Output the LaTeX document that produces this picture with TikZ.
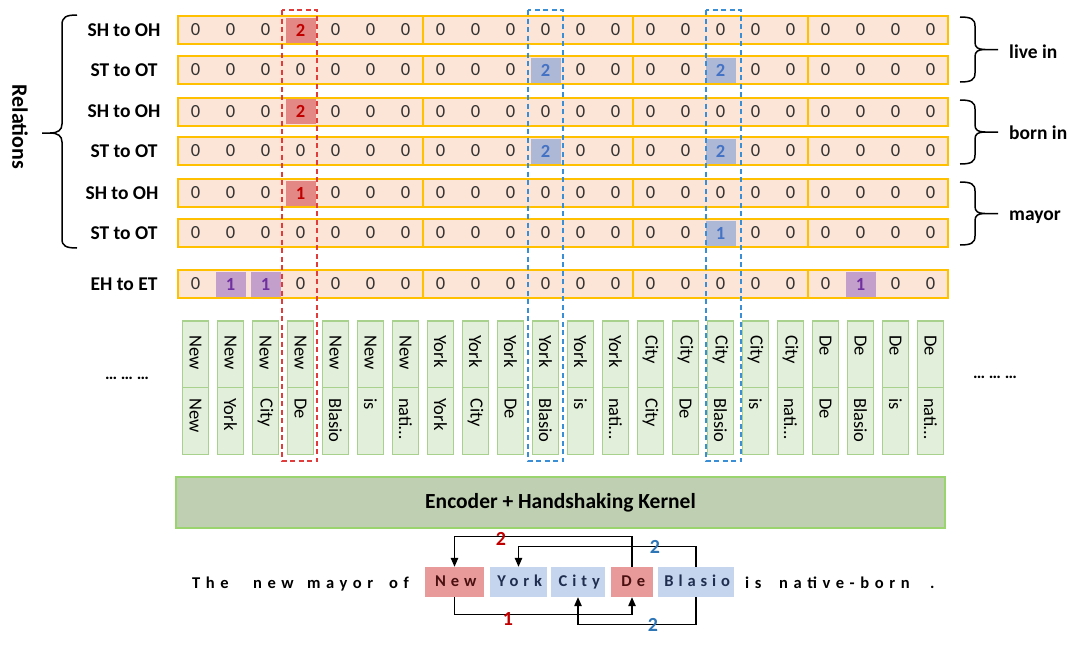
\documentclass[tikz,border=0pt]{standalone}
\usepackage{fontspec}
\setmainfont{Carlito}
\newfontfamily\spacedfont[LetterSpace=30]{Carlito}
\newfontfamily\widefont[LetterSpace=34]{Carlito}
\usetikzlibrary{arrows.meta}
\definecolor{peach}{HTML}{FCE4D6}
\definecolor{goldline}{HTML}{FFC000}
\definecolor{redcell}{HTML}{E38884}
\definecolor{redtxt}{HTML}{C00000}
\definecolor{bluecell}{HTML}{ADB8D6}
\definecolor{bluetxt}{HTML}{4472C4}
\definecolor{purcell}{HTML}{C3A0CC}
\definecolor{purtxt}{HTML}{7030A0}
\definecolor{tokfill}{HTML}{E2EFDA}
\definecolor{tokline}{HTML}{A9D18E}
\definecolor{encfill}{HTML}{BED0B1}
\definecolor{encline}{HTML}{9AD46E}
\definecolor{digitgray}{HTML}{333333}
\definecolor{redword}{HTML}{E89A9A}
\definecolor{blueword}{HTML}{C6D5EE}
\definecolor{redwordtxt}{HTML}{4A0F0F}
\definecolor{bluewordtxt}{HTML}{1F2D4F}
\definecolor{dashred}{HTML}{E03C3C}
\definecolor{dashblue}{HTML}{3A8ED6}
\definecolor{arrowred}{HTML}{C00000}
\definecolor{arrowblue}{HTML}{2E75B6}
\newcommand\RightBr[2]{%
  \pgfmathsetmacro\mymid{(#1+#2)/2}%
  \draw[bracel] (960,#1) .. controls (971,#1) and (975,#1+2) .. (975,#1+9) -- (975,\mymid-7)
    .. controls (975,\mymid-2) and (978,\mymid) .. (985,\mymid) -- (998,\mymid)
    (985,\mymid) .. controls (978,\mymid) and (975,\mymid+2) .. (975,\mymid+7) -- (975,#2-9)
    .. controls (975,#2-2) and (971,#2) .. (960,#2);}
\begin{document}
\begin{tikzpicture}[x=1pt,y=-1pt,
  lab/.style={font=\fontsize{19.5}{22}\selectfont\bfseries, inner sep=0},
  digit/.style={font=\fontsize{18.5}{20}\selectfont, text=digitgray, inner sep=0},
  hl/.style={minimum width=30pt, minimum height=25pt, inner sep=0, font=\fontsize{18.5}{20}\selectfont\bfseries},
  grp/.style={draw=goldline, line width=2pt},
  tokbox/.style={draw=tokline, fill=tokfill, line width=1.2pt, minimum width=26pt, minimum height=67pt, inner sep=0},
  toktxt/.style={font=\fontsize{18.5}{20}\selectfont, inner sep=0, rotate=-90, anchor=west},
  dots/.style={font=\fontsize{17}{20}\selectfont\bfseries, inner sep=0},
  sent/.style={font=\fontsize{16.5}{20}\spacedfont\bfseries, inner sep=0},
  word/.style={font=\fontsize{16.5}{20}\widefont\bfseries, inner sep=0, anchor=base west},
  wbox/.style={sent, minimum height=30pt, text height=11pt, text depth=3pt},
  arr/.style={line width=1.2pt, -{Triangle[length=9pt,width=7.5pt]}},
  numlab/.style={font=\fontsize{20}{22}\selectfont\bfseries, inner sep=0},
  dashbox/.style={line width=1.6pt, dash pattern=on 5pt off 3.5pt},
  bracel/.style={line width=1.5pt}
]
\useasboundingbox (0,0) rectangle (1080,651);

% row backgrounds
\foreach \yc in {30,70,111.5,151,193,233,284}
  \fill[peach] (178,\yc-14) rectangle (948,\yc+14);

% highlighted cells
\foreach \nm/\c/\yc/\fc/\tc/\v in {r1c3/3/30/redcell/redtxt/2, r2c10/10/70/bluecell/bluetxt/2,
   r2c15/15/70/bluecell/bluetxt/2, r3c3/3/111.5/redcell/redtxt/2, r4c10/10/151/bluecell/bluetxt/2,
   r4c15/15/151/bluecell/bluetxt/2, r5c3/3/193/redcell/redtxt/1, r6c15/15/233/bluecell/bluetxt/1,
   r7c1/1/284/purcell/purtxt/1, r7c2/2/284/purcell/purtxt/1, r7c19/19/284/purcell/purtxt/1}
  \node[hl, fill=\fc, text=\tc] (\nm) at ({195.5+35*\c},\yc) {\v};

% group borders
\foreach \yc in {30,70,111.5,151,193,233,284}
  \foreach \a/\b in {178/423,423/633,633/808,808/948}
    \draw[grp] (\a,\yc-14) rectangle (\b,\yc+14);

% zeros
\foreach \c in {0,1,2,4,5,...,21} \node[digit] (ra\c) at ({195.5+35*\c},30) {0};
\foreach \c in {0,1,...,9,11,12,13,14,16,17,...,21} \node[digit] (rb\c) at ({195.5+35*\c},70) {0};
\foreach \c in {0,1,2,4,5,...,21} \node[digit] (rc\c) at ({195.5+35*\c},111.5) {0};
\foreach \c in {0,1,...,9,11,12,13,14,16,17,...,21} \node[digit] (rd\c) at ({195.5+35*\c},151) {0};
\foreach \c in {0,1,2,4,5,...,21} \node[digit] (re\c) at ({195.5+35*\c},193) {0};
\foreach \c in {0,1,...,14,16,17,...,21} \node[digit] (rf\c) at ({195.5+35*\c},233) {0};
\foreach \c in {0,3,4,...,18,20,21} \node[digit] (rg\c) at ({195.5+35*\c},284) {0};

% row labels
\node[lab] (L1) at (124,30) {SH to OH};
\node[lab] (L2) at (124,70) {ST to OT};
\node[lab] (L3) at (124,111.5) {SH to OH};
\node[lab] (L4) at (124,151) {ST to OT};
\node[lab] (L5) at (122,193) {SH to OH};
\node[lab] (L6) at (124,233) {ST to OT};
\node[lab] (L7) at (124,284) {EH to ET};

% token pairs
\foreach \a/\b [count=\i from 0] in {New/New,New/York,New/City,New/De,New/Blasio,New/is,New/nati…,
   York/York,York/City,York/De,York/Blasio,York/is,York/nati…,
   City/City,City/De,City/Blasio,City/is,City/nati…,
   De/De,De/Blasio,De/is,De/nati…} {
  \node[tokbox] (ta\i) at ({195.5+35*\i},354.5) {};
  \node[tokbox] (tb\i) at ({195.5+35*\i},421) {};
  \node[toktxt] (tat\i) at ({195.5+35*\i},335) {\a};
  \node[toktxt] (tbt\i) at ({195.5+35*\i},398) {\b};
}
\node[dots] (dl) at (127,378) {… … …};
\node[dots] (dr) at (995,377) {… … …};

% encoder
\node[draw=encline, fill=encfill, line width=1.2pt, minimum width=769pt, minimum height=51pt,
  inner sep=0, font=\fontsize{21.5}{24}\selectfont\bfseries] (enc) at (560.5,502.5) {Encoder + Handshaking Kernel};

% sentence
\node[word] (wThe) at (192,588) {The};
\node[word] (wnew) at (253,588) {new};
\node[word] (wmayor) at (307,588) {mayor};
\node[word] (wof) at (389,588) {of};
\node[wbox, fill=redword, text=redwordtxt, minimum width=59pt] (New) at (454.5,582) {\hspace*{2.5pt}New};
\node[wbox, fill=blueword, text=bluewordtxt, minimum width=57pt] (York) at (518.5,582) {\hspace*{2.5pt}York};
\node[wbox, fill=blueword, text=bluewordtxt, minimum width=54pt] (City) at (578,582) {\hspace*{2.5pt}City};
\node[wbox, fill=redword, text=redwordtxt, minimum width=42pt] (De) at (632,582) {\hspace*{2.5pt}De};
\node[wbox, fill=blueword, text=bluewordtxt, minimum width=76pt] (Blasio) at (696,582) {\hspace*{2.5pt}Blasio};
\node[word] (wis) at (745,588) {is};
\node[word] (wnat) at (779,588) {native-born};
\node[word] (wdot) at (930,588) {.};

% arrows
\draw[arr] (De.north) -- ++(0,-30) -| (New.north);
\draw[arr] (Blasio.north) -- ++(0,-20) -| (York.north);
\draw[arr] (New.south) -- ++(0,17) -| (De.south);
\draw[arr] (Blasio.south) -- ++(0,27) -| (City.south);
\node[numlab, text=arrowred] (n1) at (501,539) {2};
\node[numlab, text=arrowblue] (n2) at (655,547) {2};
\node[numlab, text=arrowred] (n3) at (508,619) {1};
\node[numlab, text=arrowblue] (n4) at (653,625) {2};

% dashed column boxes
\draw[dashbox, draw=dashred] (282,10) rectangle (317,461);
\draw[dashbox, draw=dashblue] (528,10) rectangle (563,461);
\draw[dashbox, draw=dashblue] (706,10) rectangle (741,461);

% left brace
\draw[bracel] (77,15) .. controls (66,15) and (62,17) .. (62,25) -- (62,124)
  .. controls (62,130) and (58,133) .. (50,133) -- (42,133)
  (50,133) .. controls (58,133) and (62,136) .. (62,142) -- (62,239)
  .. controls (62,246) and (66,248) .. (77,248);
\node[font=\fontsize{22}{24}\selectfont\bfseries, rotate=-90, inner sep=0] (rel) at (20,127) {Relations};

% right braces
\RightBr{17}{82}
\RightBr{100}{164}
\RightBr{182}{245}
\node[lab, anchor=base west] (li) at (1009,58) {live in};
\node[lab, anchor=base west] (bi) at (1009,139) {born in};
\node[lab, anchor=base west] (my) at (1009,220) {mayor};
\end{tikzpicture}
\end{document}
